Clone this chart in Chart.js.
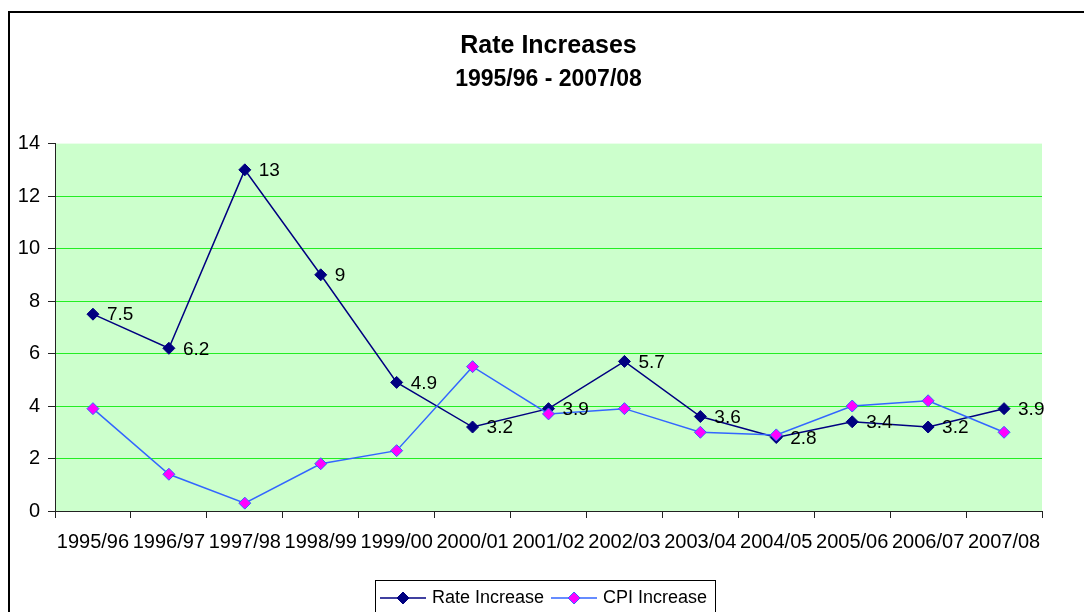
<!DOCTYPE html>
<html>
<head>
<meta charset="utf-8">
<title>Rate Increases</title>
<script src="https://cdn.jsdelivr.net/npm/chart.js@4/dist/chart.umd.min.js"></script>
<style>
  html, body { margin: 0; padding: 0; background: #fff; overflow: hidden; width: 1084px; height: 612px; }
  #frame { position: absolute; left: 8px; top: 11px; width: 1200px; height: 800px;
           border-left: 2px solid #000; border-top: 2px solid #000; pointer-events: none; }
  #chart { position: absolute; left: 0; top: 0; }
</style>
</head>
<body>
<canvas id="chart" width="1090" height="617"></canvas>
<div id="frame"></div>
<script>
const years = ['1995/96', '1996/97', '1997/98', '1998/99', '1999/00', '2000/01', '2001/02',
               '2002/03', '2003/04', '2004/05', '2005/06', '2006/07', '2007/08'];
const rateIncrease = [7.5, 6.2, 13, 9, 4.9, 3.2, 3.9, 5.7, 3.6, 2.8, 3.4, 3.2, 3.9];
const cpiIncrease = [3.9, 1.4, 0.3, 1.8, 2.3, 5.5, 3.7, 3.9, 3.0, 2.9, 4.0, 4.2, 3.0];
const yTicks = [0, 2, 4, 6, 8, 10, 12, 14];

const FONT = '"Liberation Sans", Arial, sans-serif';
const NAVY = '#000080';
const BLUE = '#3366FF';
const MAGENTA = '#FF00FF';

// line + diamond swatch for the legend
function swatch(lineColor, fill, stroke) {
    const c = document.createElement('canvas');
    c.width = 46;
    c.height = 14;
    const g = c.getContext('2d');
    g.strokeStyle = lineColor;
    g.lineWidth = 1.5;
    g.beginPath();
    g.moveTo(0, 7);
    g.lineTo(46, 7);
    g.stroke();
    g.beginPath();
    g.moveTo(23, 1);
    g.lineTo(29, 7);
    g.lineTo(23, 13);
    g.lineTo(17, 7);
    g.closePath();
    g.fillStyle = fill;
    g.fill();
    g.strokeStyle = stroke;
    g.lineWidth = 1;
    g.stroke();
    return c;
}
const swatches = [swatch(NAVY, NAVY, NAVY), swatch(BLUE, MAGENTA, BLUE)];

const plotBackground = {
    id: 'plotBackground',
    beforeDraw(chart) {
        const { ctx, chartArea: a } = chart;
        ctx.save();
        ctx.fillStyle = '#CCFFCC';
        ctx.fillRect(a.left, a.top, a.right - a.left, a.bottom - a.top);
        ctx.restore();
    },
};

const valueLabels = {
    id: 'valueLabels',
    afterDatasetsDraw(chart) {
        const meta = chart.getDatasetMeta(0);
        const ctx = chart.ctx;
        ctx.save();
        ctx.font = '19px ' + FONT;
        ctx.fillStyle = '#000';
        ctx.textAlign = 'left';
        ctx.textBaseline = 'middle';
        meta.data.forEach((pt, i) => {
            ctx.fillText(String(rateIncrease[i]), pt.x + 14, pt.y + 1);
        });
        ctx.restore();
    },
};

const legendFrame = {
    id: 'legendFrame',
    afterDraw(chart) {
        const boxes = chart.legend.legendHitBoxes;
        if (!boxes || !boxes.length) return;
        const left = Math.min(...boxes.map((b) => b.left)) - 8;
        const right = Math.max(...boxes.map((b) => b.left + b.width)) + 8;
        const top = boxes[0].top - 9;
        const ctx = chart.ctx;
        ctx.save();
        ctx.strokeStyle = '#000';
        ctx.lineWidth = 1;
        ctx.strokeRect(Math.round(left) + 0.5, Math.round(top) + 0.5, Math.round(right - left), 60);
        ctx.restore();
    },
};

new Chart(document.getElementById('chart'), {
    type: 'line',
    data: {
        labels: years,
        datasets: [{
            label: 'Rate Increase',
            data: rateIncrease,
            borderColor: NAVY,
            borderWidth: 1.5,
            pointStyle: 'rectRot',
            pointRadius: 6,
            pointBackgroundColor: NAVY,
            pointBorderColor: NAVY,
            pointBorderWidth: 1,
            order: 1,
        }, {
            label: 'CPI Increase',
            data: cpiIncrease,
            borderColor: BLUE,
            borderWidth: 1.5,
            pointStyle: 'rectRot',
            pointRadius: 6,
            pointBackgroundColor: MAGENTA,
            pointBorderColor: BLUE,
            pointBorderWidth: 1,
            order: 0,
        }],
    },
    options: {
        responsive: false,
        animation: false,
        layout: { padding: 0 },
        plugins: {
            title: {
                display: true,
                fullSize: false,
                text: 'Rate Increases',
                color: '#000',
                font: { family: FONT, size: 25, weight: 'bold' },
                padding: { top: 31, bottom: 5 },
            },
            subtitle: {
                display: true,
                fullSize: false,
                text: '1995/96 - 2007/08',
                color: '#000',
                font: { family: FONT, size: 23, weight: 'bold' },
                padding: { top: 0, bottom: 50 },
            },
            legend: {
                position: 'bottom',
                labels: {
                    color: '#000',
                    font: { family: FONT, size: 18 },
                    usePointStyle: true,
                    pointStyleWidth: 40,
                    padding: 10,
                    sort: (a, b) => a.datasetIndex - b.datasetIndex,
                    generateLabels(chart) {
                        const items = Chart.defaults.plugins.legend.labels.generateLabels(chart);
                        items.forEach((it) => { it.pointStyle = swatches[it.datasetIndex]; });
                        return items;
                    },
                },
            },
            tooltip: { enabled: false },
        },
        scales: {
            x: {
                offset: true,
                grid: {
                    offset: true,
                    drawOnChartArea: false,
                    color: '#222',
                    tickLength: 7,
                },
                border: { color: '#222', width: 1 },
                ticks: {
                    color: '#000',
                    font: { family: FONT, size: 20 },
                    padding: 12,
                    maxRotation: 0,
                    autoSkip: false,
                },
                afterFit: (scale) => { scale.height = 68; },
            },
            y: {
                min: 0,
                max: 14,
                afterBuildTicks: (scale) => { scale.ticks = yTicks.map((v) => ({ value: v })); },
                grid: {
                    color: (c) => (c.tick && c.tick.value === 14 ? 'rgba(0,0,0,0)' : '#22EE22'),
                    tickColor: '#222',
                    tickLength: 7,
                },
                border: { color: '#222', width: 1 },
                ticks: {
                    color: '#000',
                    font: { family: FONT, size: 20 },
                    padding: 8,
                },
                afterFit: (scale) => { scale.width = 55; },
            },
            // empty margin to the right of the plot
            yRight: {
                position: 'right',
                grid: { display: false },
                border: { display: false },
                ticks: { display: false },
                afterFit: (scale) => { scale.width = 48; },
            },
        },
    },
    plugins: [plotBackground, valueLabels, legendFrame],
});
</script>
</body>
</html>
